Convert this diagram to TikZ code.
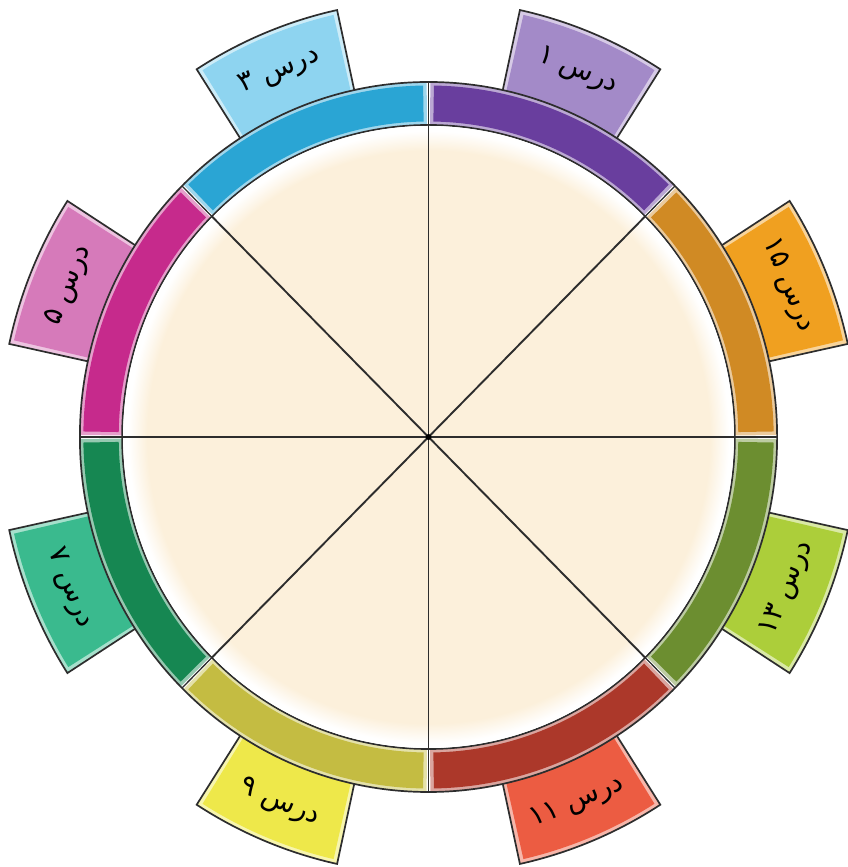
\documentclass[tikz,border=0pt]{standalone}
\usepackage{fontspec}
\newfontfamily\arabicfont[Script=Arabic]{DejaVu Sans}
\TeXXeTstate=1
\definecolor{linec}{RGB}{45,45,45}
\definecolor{beige}{RGB}{252,240,219}
\definecolor{purR}{RGB}{105,62,158}
\definecolor{oraR}{RGB}{208,138,36}
\definecolor{olgR}{RGB}{108,142,48}
\definecolor{redR}{RGB}{172,56,42}
\definecolor{olyR}{RGB}{196,188,66}
\definecolor{grnR}{RGB}{22,135,82}
\definecolor{magR}{RGB}{198,42,140}
\definecolor{bluR}{RGB}{42,165,212}
\definecolor{purT}{RGB}{163,138,200}
\definecolor{oraT}{RGB}{240,160,32}
\definecolor{olgT}{RGB}{172,206,58}
\definecolor{redT}{RGB}{236,92,66}
\definecolor{olyT}{RGB}{238,232,74}
\definecolor{grnT}{RGB}{58,186,142}
\definecolor{magT}{RGB}{214,122,186}
\definecolor{bluT}{RGB}{142,212,240}
\pgfdeclareradialshading{beigefade}{\pgfpoint{0bp}{0bp}}{color(0bp)=(beige); color(23.4bp)=(beige); color(25bp)=(white); color(50bp)=(white)}
\begin{document}
\begin{tikzpicture}[x=1pt,y=1pt,
  outl/.style={draw=linec, line width=1.7pt},
  spoke/.style={draw=linec, line width=1.9pt},
  lbl/.style={font=\arabicfont\fontsize{28}{32}\selectfont, inner sep=0pt, text=black}]
\useasboundingbox[fill=white] (0,0) rectangle (847,867);
\begin{scope}[shift={(428.5,430)}, xscale=0.982]
  % tabs
  \foreach \a/\c in {22.5/ora,67.5/pur,112.5/blu,157.5/mag,202.5/grn,247.5/oly,292.5/red,337.5/olg}{
    \pgfmathsetmacro{\sa}{\a-10.2}\pgfmathsetmacro{\ea}{\a+10.2}
    \pgfmathsetmacro{\sb}{\a-9.6}\pgfmathsetmacro{\eb}{\a+9.6}
    \fill[\c T!45!white] (\sa:340) -- (\sa:437) arc[start angle=\sa, end angle=\ea, radius=437] -- (\ea:340) -- cycle;
    \fill[\c T] (\sb:340) -- (\sb:433) arc[start angle=\sb, end angle=\eb, radius=433] -- (\eb:340) -- cycle;
    \draw[outl] (\sa:340) -- (\sa:437) arc[start angle=\sa, end angle=\ea, radius=437] -- (\ea:340);
  }
  % ring
  \fill[white] (0,0) circle[radius=355];
  \foreach \s/\c in {0/ora,45/pur,90/blu,135/mag,180/grn,225/oly,270/red,315/olg}{
    \pgfmathsetmacro{\e}{\s+45}
    \pgfmathsetmacro{\sa}{\s+0.3}\pgfmathsetmacro{\ea}{\e-0.3}
    \pgfmathsetmacro{\sb}{\s+0.9}\pgfmathsetmacro{\eb}{\e-0.9}
    \fill[\c R!45!white] (\sa:312) -- (\sa:355) arc[start angle=\sa, end angle=\ea, radius=355] -- (\ea:312) arc[start angle=\ea, end angle=\sa, radius=312] -- cycle;
    \fill[\c R] (\sb:315.5) -- (\sb:351.5) arc[start angle=\sb, end angle=\eb, radius=351.5] -- (\eb:315.5) arc[start angle=\eb, end angle=\sb, radius=315.5] -- cycle;
  }
  \draw[outl] (0,0) circle[radius=355];
  \draw[outl] (0,0) circle[radius=312];
  \foreach \s in {0,45,...,315}{
    \draw[line width=1.3pt, draw=linec] (\s:312) -- (\s:355);
  }
  % beige disc
  \fill[white] (0,0) circle[radius=311];
  \shade[shading=beigefade] (0,0) circle[radius=306];
  % spokes
  \foreach \s in {0,45,90,135}{
    \draw[spoke] (\s:312) -- (\s+180:312);
  }
  \fill[black] (0,0) circle[radius=3];
  % labels
  \node[lbl, rotate=-67.5] (t15) at (22.5:396) {\beginR درس ۱۵\endR};
  \node[lbl, rotate=-22.5] (t1) at (67.5:396) {\beginR درس ۱\endR};
  \node[lbl, rotate=22.5] (t3) at (112.5:396) {\beginR درس ۳\endR};
  \node[lbl, rotate=67.5] (t5) at (157.5:396) {\beginR درس ۵\endR};
  \node[lbl, rotate=-67.5] (t7) at (202.5:396) {\beginR درس ۷\endR};
  \node[lbl, rotate=-22.5] (t9) at (247.5:396) {\beginR درس ۹\endR};
  \node[lbl, rotate=22.5] (t11) at (292.5:396) {\beginR درس ۱۱\endR};
  \node[lbl, rotate=67.5] (t13) at (337.5:396) {\beginR درس ۱۳\endR};
\end{scope}
\end{tikzpicture}
\end{document}
